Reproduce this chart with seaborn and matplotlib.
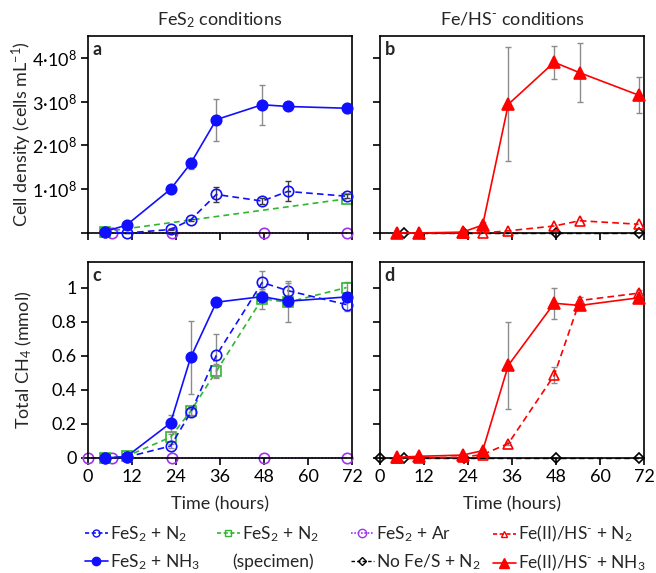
import matplotlib
matplotlib.use("Agg")
import matplotlib.pyplot as plt
from matplotlib.lines import Line2D
import seaborn as sns
import numpy as np

# ---------------- data ----------------
t_main = [4.5, 10.5, 22.5, 28, 35, 47.5, 54.5, 70.5]      # hours
t_spec_a = [4.5, 70.5]
t_ar_a = [6.5, 23, 48, 70.5]
t_ar_c = [0, 6.5, 23, 48, 70.5]
t_ctrl_b = [6.5, 23, 48, 70.5]
t_ctrl_d = [0, 6.5, 23, 48, 70.5]

# panel a: cell density (x 1e8 cells/mL)
a_nh3 = [0.03, 0.18, 1.00, 1.59, 2.59, 2.93, 2.89, 2.85]
a_nh3_err = [0, 0.02, 0.03, 0.12, 0.48, 0.46, 0.08, 0.10]
a_n2 = [0.02, 0.00, 0.08, 0.30, 0.88, 0.73, 0.95, 0.84]
a_n2_err = [0, 0, 0.02, 0.03, 0.17, 0.06, 0.23, 0.05]
a_spec = [0.03, 0.78]
a_ar = [0, 0, 0, 0]

# panel b: cell density (x 1e8 cells/mL)
b_nh3 = [0.0, 0.0, 0.02, 0.18, 2.94, 3.90, 3.66, 3.15]
b_nh3_err = [0, 0, 0, 0.07, 1.30, 0.38, 0.67, 0.41]
b_n2 = [0.0, 0.0, 0.0, 0.0, 0.05, 0.16, 0.28, 0.20]
b_ctrl = [0, 0, 0, 0]

# panel c: total CH4 (mmol)
c_nh3 = [0.0, 0.008, 0.205, 0.59, 0.914, 0.947, 0.92, 0.945]
c_nh3_err = [0, 0, 0.05, 0.215, 0.02, 0.03, 0.12, 0.02]
c_n2 = [0.0, 0.005, 0.07, 0.267, 0.602, 1.03, 0.982, 0.90]
c_n2_err = [0, 0, 0.01, 0.02, 0.125, 0.07, 0.045, 0.04]
c_spec = [0.0, 0.01, 0.122, 0.275, 0.509, 0.934, 0.914, 1.0]
c_spec_err = [0, 0, 0.02, 0.02, 0.04, 0.06, 0.02, 0.03]
c_ar = [0, 0, 0, 0, 0]

# panel d: total CH4 (mmol)
d_nh3 = [0.004, 0.01, 0.017, 0.043, 0.544, 0.908, 0.895, 0.94]
d_nh3_err = [0, 0, 0, 0.01, 0.255, 0.09, 0.02, 0.02]
d_n2 = [0.0, 0.0, 0.005, 0.02, 0.085, 0.485, 0.924, 0.967]
d_n2_err = [0, 0, 0, 0, 0.01, 0.047, 0.02, 0.02]
d_ctrl = [0, 0, 0, 0, 0]

x_ticks = [0, 12, 24, 36, 48, 60, 72]
cell_ticks = [0, 1, 2, 3, 4]
cell_ticklabels = ["", "1·10$^8$", "2·10$^8$", "3·10$^8$", "4·10$^8$"]
ch4_ticks = [0, 0.2, 0.4, 0.6, 0.8, 1.0]
ch4_ticklabels = ["0", "0.2", "0.4", "0.6", "0.8", "1"]

HS = "HS$^{\u2010}$"

# ---------------- style ----------------
sns.set_theme(style="ticks")
plt.rcParams["font.family"] = ["Lato", "DejaVu Sans"]
plt.rcParams["mathtext.fontset"] = "custom"
plt.rcParams["mathtext.rm"] = "Lato"
plt.rcParams["mathtext.it"] = "Lato:italic"
plt.rcParams["mathtext.bf"] = "Lato:bold"
plt.rcParams["mathtext.default"] = "regular"
plt.rcParams["axes.linewidth"] = 1.2
plt.rcParams["xtick.major.width"] = 1.2
plt.rcParams["ytick.major.width"] = 1.2
plt.rcParams["xtick.major.size"] = 5
plt.rcParams["ytick.major.size"] = 5
plt.rcParams["xtick.direction"] = "out"
plt.rcParams["ytick.direction"] = "out"

BLUE = "#1010ff"
GREEN = "#2db82d"
PURPLE = "#a133f0"
RED = "#ff0000"
BLACK = "#000000"
GRAY = "#8c8c8c"
DGRAY = "#3a3a3a"

fig = plt.figure(figsize=(6.56, 5.73), dpi=100)
W, H = 656, 573


def rect(x0, y0, x1, y1):
    return [x0 / W, 1 - y1 / H, (x1 - x0) / W, (y1 - y0) / H]


ax_a = fig.add_axes(rect(88, 36, 352, 233))
ax_b = fig.add_axes(rect(380, 36, 644, 233))
ax_c = fig.add_axes(rect(88, 262, 352, 458))
ax_d = fig.add_axes(rect(380, 262, 644, 458))


def series(ax, t, y, color, marker, ls, filled, ms=7, lw=1.2, err=None,
           ecolor=GRAY, z=3):
    if err is not None:
        ax.errorbar(t, y, yerr=err, fmt="none", ecolor=ecolor, elinewidth=1.0,
                    capsize=2, capthick=1.0, zorder=z - 0.5, clip_on=False)
    sns.lineplot(x=t, y=y, ax=ax, color=color, marker=marker, linestyle=ls,
                 linewidth=lw, markersize=ms,
                 markerfacecolor=color if filled else "none",
                 markeredgecolor=color, markeredgewidth=1.2,
                 legend=False, errorbar=None, sort=False,
                 clip_on=False, zorder=z)


DASH = (0, (4, 2.5))
DASH_G = (0, (3.5, 2.5))
DOT = (0, (1, 1))

# panel a
series(ax_a, t_spec_a, a_spec, GREEN, "s", DASH_G, False, ms=6.5, z=2)
series(ax_a, t_ar_a, a_ar, PURPLE, "o", DOT, False, ms=7.5, z=2.5)
series(ax_a, t_main, a_n2, BLUE, "o", DASH, False, ms=7.5, err=a_n2_err,
       ecolor=DGRAY, z=3)
series(ax_a, t_main, a_nh3, BLUE, "o", "-", True, ms=7.5, err=a_nh3_err, z=4)

# panel b
series(ax_b, t_ctrl_b, b_ctrl, BLACK, "D", DASH, False, ms=5, lw=1.0, z=2)
series(ax_b, t_main, b_n2, RED, "^", DASH, False, ms=7.5, z=3)
series(ax_b, t_main, b_nh3, RED, "^", "-", True, ms=9, err=b_nh3_err, z=4)

# panel c
series(ax_c, t_ar_c, c_ar, PURPLE, "o", DOT, False, ms=7.5, z=2)
series(ax_c, t_main, c_spec, GREEN, "s", DASH_G, False, ms=7, err=c_spec_err, z=2.5)
series(ax_c, t_main, c_n2, BLUE, "o", DASH, False, ms=7.5, err=c_n2_err, z=3)
series(ax_c, t_main, c_nh3, BLUE, "o", "-", True, ms=7.5, err=c_nh3_err, z=4)

# panel d
series(ax_d, t_ctrl_d, d_ctrl, BLACK, "D", DASH, False, ms=5, lw=1.0, z=2)
series(ax_d, t_main, d_n2, RED, "^", DASH, False, ms=7.5, err=d_n2_err, z=3)
series(ax_d, t_main, d_nh3, RED, "^", "-", True, ms=9, err=d_nh3_err, z=4)

FS = 13
for ax in (ax_a, ax_b, ax_c, ax_d):
    ax.set_xlim(0, 72)
    ax.set_xticks(x_ticks)
    for s in ax.spines.values():
        s.set_visible(True)
        s.set_color("black")
        s.set_linewidth(1.2)
    ax.tick_params(axis="both", colors="black", labelsize=FS, pad=3)
    ax.set_xlabel("")
    ax.set_ylabel("")
    ax.grid(False)

for ax in (ax_a, ax_b):
    ax.set_ylim(0, 4.5)
    ax.set_yticks(cell_ticks)
    ax.set_xticklabels([])
for ax in (ax_c, ax_d):
    ax.set_ylim(0, 1.15)
    ax.set_yticks(ch4_ticks)
    ax.set_xticklabels([str(v) for v in x_ticks])
    ax.set_xlabel("Time (hours)", fontsize=FS, labelpad=8)

ax_a.set_yticklabels(cell_ticklabels)
ax_b.set_yticklabels([])
ax_c.set_yticklabels(ch4_ticklabels)
ax_d.set_yticklabels([])

ax_a.set_ylabel("Cell density (cells mL$^{-1}$)", fontsize=FS)
ax_c.set_ylabel("Total CH$_4$ (mmol)", fontsize=FS)
ax_a.yaxis.set_label_coords((34 - 88) / 264, 0.5)
ax_c.yaxis.set_label_coords((34 - 88) / 264, 0.5)

ax_a.set_title("FeS$_2$ conditions", fontsize=FS, pad=8)
ax_b.set_title("Fe/" + HS + " conditions", fontsize=FS, pad=8)

for ax, lab in ((ax_a, "a"), (ax_b, "b"), (ax_c, "c"), (ax_d, "d")):
    ax.text(0.018, 0.975, lab, transform=ax.transAxes, fontsize=FS,
            fontweight="bold", va="top", ha="left")

# ---------------- legend ----------------
def h(color, marker, ls, filled, ms=5, lw=1.2):
    return Line2D([0], [0], color=color, marker=marker, linestyle=ls,
                  linewidth=lw, markersize=ms,
                  markerfacecolor=color if filled else "none",
                  markeredgecolor=color, markeredgewidth=1.0)


LFS = 12.5
LDASH = (0, (2.5, 1.5))
columns = [
    (85, [h(BLUE, "o", LDASH, False), h(BLUE, "o", "-", True, ms=6)],
     ["FeS$_2$ + N$_2$", "FeS$_2$ + NH$_3$"]),
    (217, [h(GREEN, "s", LDASH, False)],
     ["FeS$_2$ + N$_2$"]),
    (351, [h(PURPLE, "o", (0, (1, 1)), False, ms=6),
           h(BLACK, "D", LDASH, False, ms=4, lw=1.0)],
     ["FeS$_2$ + Ar", "No Fe/S + N$_2$"]),
    (493, [h(RED, "^", LDASH, False), h(RED, "^", "-", True, ms=7)],
     ["Fe(II)/" + HS + " + N$_2$", "Fe(II)/" + HS + " + NH$_3$"]),
]
for x0, hs, ls in columns:
    fig.legend(hs, ls, loc="upper left",
               bbox_to_anchor=(x0 / W, 1 - 524 / H), frameon=False,
               fontsize=LFS, handlelength=1.3, handletextpad=0.15,
               labelspacing=0.5, borderaxespad=0, borderpad=0)
fig.text(232 / W, 1 - 562 / H, "(specimen)", fontsize=LFS, ha="left",
         va="center")

fig.savefig("out.png", dpi=100)
